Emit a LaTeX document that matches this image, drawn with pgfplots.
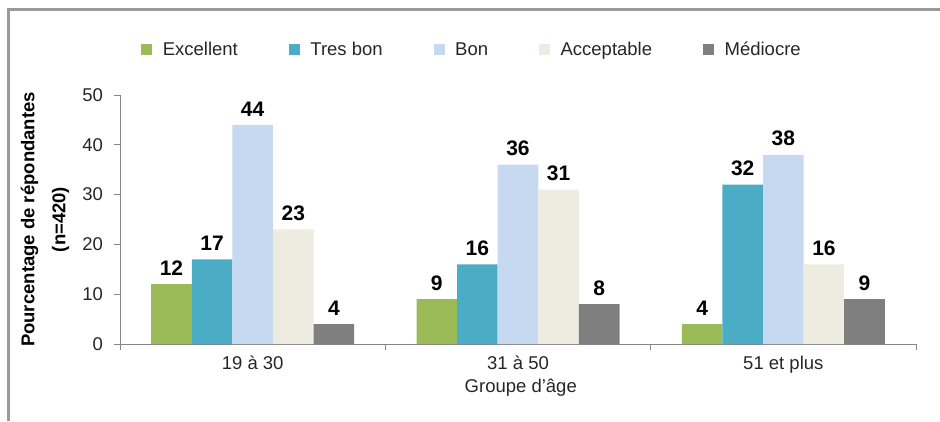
\documentclass[border=0pt]{standalone}
\usepackage{pgfplots}
\usepackage{pgfplotstable}
\pgfplotsset{compat=1.18}
\usepackage{fontspec}
\setmainfont{Liberation Sans}

\definecolor{cExc}{HTML}{9BBB59}
\definecolor{cTb}{HTML}{4BACC6}
\definecolor{cBon}{HTML}{C6D9F1}
\definecolor{cAcc}{HTML}{EEECE1}
\definecolor{cMed}{HTML}{7F7F7F}
\definecolor{axisgray}{HTML}{868686}
\definecolor{framegray}{HTML}{999999}
\definecolor{txt}{HTML}{262626}

% Percentage of respondents by self-rated category, per age group
\pgfplotstableread{
grp exc tb bon acc med
1   12  17  44  23  4
2   9   16  36  31  8
3   4   32  38  16  9
}\ratings

\begin{document}
\begin{tikzpicture}[x=1pt,y=1pt]
\useasboundingbox (0,0) rectangle (940,421);
% chart frame
\draw[line width=2.6pt, color=framegray] (8.3,0) -- (8.3,411.7) -- (941,411.7);
\begin{axis}[
  at={(120pt,77pt)}, anchor=south west,
  scale only axis, width=796pt, height=249pt,
  xmin=0.5, xmax=3.5, ymin=0, ymax=50,
  /pgf/number format/assume math mode=true,
  ybar=0pt, bar width=40.6pt,
  axis x line*=bottom, axis y line*=left,
  axis line style={color=axisgray, line width=1pt, -},
  tick align=outside,
  ytick={0,10,...,50},
  major tick length=6.5pt,
  y tick style={color=axisgray, line width=1pt},
  xtick={1,2,3},
  xticklabels={19 à 30, 31 à 50, 51 et plus},
  x tick style={draw=none},
  minor xtick={0.5,1.5,2.5,3.5},
  minor tick length=6pt,
  minor x tick style={draw=axisgray, line width=1pt},
  tick label style={font=\fontsize{18.5}{22}\selectfont, color=txt},
  yticklabel style={xshift=-7pt},
  xticklabel style={yshift=-2pt},
  nodes near coords,
  every node near coord/.append style={font=\bfseries\fontsize{21}{25}\selectfont, color=black, yshift=5pt},
  legend columns=5,
  legend style={draw=none, fill=none, at={(0.441,1.183)}, anchor=center,
    font=\fontsize{18.5}{21}\selectfont, text=txt,
    nodes={inner sep=0pt},
    /tikz/every odd column/.append style={column sep=10.5pt},
    /tikz/every even column/.append style={column sep=51pt}},
  legend image code/.code={\fill[#1] (0pt,-5.5pt) rectangle (11pt,5.5pt);},
  clip=false,
]
\addplot[fill=cExc, draw=none] table[x=grp, y=exc] {\ratings};
\addplot[fill=cTb,  draw=none] table[x=grp, y=tb]  {\ratings};
\addplot[fill=cBon, draw=none] table[x=grp, y=bon] {\ratings};
\addplot[fill=cAcc, draw=none] table[x=grp, y=acc] {\ratings};
\addplot[fill=cMed, draw=none] table[x=grp, y=med] {\ratings};
\legend{Excellent, Tres bon, Bon, Acceptable, Médiocre}
\node[font=\fontsize{18.5}{22}\selectfont, color=txt, anchor=base] at (axis description cs:0.5035,-0.193) {Groupe d’âge};
\node[rotate=90, align=center, inner sep=0pt, font=\bfseries\fontsize{18.5}{31}\selectfont, color=black]
  at (axis description cs:-0.0942,0.5) {Pourcentage de répondantes\\(n=420)};
\end{axis}
\end{tikzpicture}
\end{document}
